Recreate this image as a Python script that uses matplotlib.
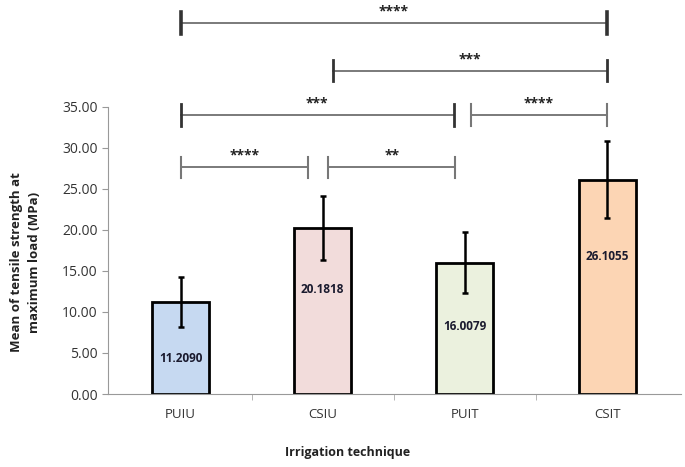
import matplotlib
matplotlib.use("Agg")
import matplotlib.pyplot as plt
from matplotlib.ticker import FormatStrFormatter, FixedLocator

categories = ["PUIU", "CSIU", "PUIT", "CSIT"]
means = [11.2090, 20.1818, 16.0079, 26.1055]
sds = [3.1, 3.9, 3.75, 4.7]
label_texts = ["11.2090", "20.1818", "16.0079", "26.1055"]
label_frac = [0.39, 0.63, 0.51, 0.64]
bar_colors = ["#c6d9f1", "#f2dcdb", "#ebf1de", "#fcd5b4"]

# significance brackets: (x_start, x_end, y, stars, cap colour, cap width)
brackets = [
    (0.0, 3.0, 45.2, "****", "#333333", 2.6),
    (1.07, 3.0, 39.4, "***", "#333333", 2.0),
    (0.0, 1.92, 34.0, "***", "#333333", 2.0),
    (2.04, 3.0, 34.0, "****", "#777777", 1.5),
    (0.0, 0.9, 27.6, "****", "#777777", 1.5),
    (1.04, 1.93, 27.6, "**", "#777777", 1.5),
]

plt.rcParams['font.family'] = ['Open Sans', 'DejaVu Sans']

fig = plt.figure(figsize=(6.85, 4.67), dpi=100)
ax = fig.add_axes([108/685, 1 - 394/467, (681-108)/685, 394/467])

x = list(range(len(categories)))
ax.bar(x, means, width=0.40, color=bar_colors, edgecolor="black", linewidth=2, zorder=2)
ax.errorbar(x, means, yerr=sds, fmt="none", ecolor="black", elinewidth=1.8,
            capsize=2, capthick=1.8, zorder=3)

for xi, m, t, f in zip(x, means, label_texts, label_frac):
    ax.text(xi, m * f, t, ha="center", va="center", fontsize=8.5,
            fontweight="bold", color="#1a1a2e", zorder=4)

for x0, x1, y, s, cc, cw in brackets:
    ax.plot([x0, x1], [y, y], color="#707070", lw=1.3, clip_on=False, zorder=2)
    for xe in (x0, x1):
        ax.plot([xe, xe], [y - 1.3, y + 1.3], color=cc, lw=cw, clip_on=False, zorder=2)
    ax.text((x0 + x1) / 2, y + 0.55, s, ha="center", va="bottom", fontsize=10,
            fontweight="bold", color="#222222")

ax.set_xlim(-0.51, 3.52)
ax.set_ylim(0, 48)
ax.set_yticks([0, 5, 10, 15, 20, 25, 30, 35])
ax.yaxis.set_major_formatter(FormatStrFormatter("%.2f"))
ax.set_xticks(x)
ax.set_xticklabels(categories)
ax.xaxis.set_minor_locator(FixedLocator([0.5, 1.5, 2.5]))
ax.tick_params(axis="x", which="major", length=0, pad=10, labelsize=9.5, labelcolor="#333333")
ax.tick_params(axis="x", which="minor", length=4, color="#aaaaaa", direction="out")
ax.tick_params(axis="y", length=4, color="#999999", labelsize=10, labelcolor="#333333")

for sp in ["top", "right"]:
    ax.spines[sp].set_visible(False)
ax.spines["left"].set_bounds(0, 35)
ax.spines["left"].set_color("#999999")
ax.spines["bottom"].set_color("#999999")

ax.set_ylabel("Mean of tensile strength at\nmaximum load (MPa)", fontsize=9.5,
              fontweight="bold", color="#222222", linespacing=1.5)
ax.yaxis.set_label_coords((41 - 108) / (681 - 108), (394 - 262) / 394)
ax.set_xlabel("Irrigation technique", fontsize=9, fontweight="bold", color="#222222")
ax.xaxis.set_label_coords((348 - 108) / (681 - 108), -52 / 394)

fig.savefig("out.png", dpi=100)
